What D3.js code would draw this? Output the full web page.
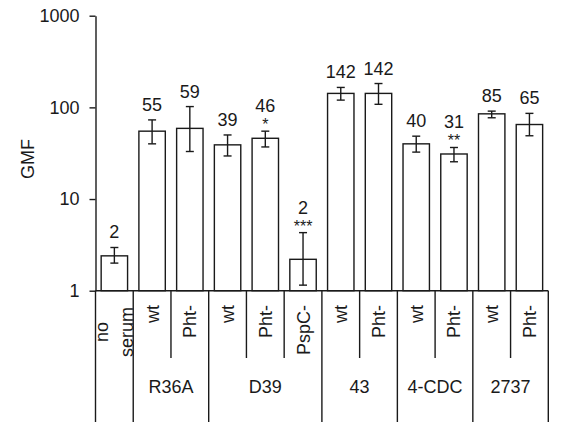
<!DOCTYPE html>
<html>
<head>
<meta charset="utf-8">
<script src="https://cdn.jsdelivr.net/npm/d3@7"></script>
<style>
  html, body { margin: 0; padding: 0; background: #fff; }
  svg { display: block; font-family: "Liberation Sans", Arial, sans-serif; }
</style>
</head>
<body>
<svg id="chart" width="561" height="422"></svg>
<script>
// Strain groups and the serum/variant condition of each bar
const strains  = ["none", "R36A", "R36A", "D39", "D39", "D39", "43", "43", "4-CDC", "4-CDC", "2737", "2737"];
const variants = ["no serum", "wt", "Pht-", "wt", "Pht-", "PspC-", "wt", "Pht-", "wt", "Pht-", "wt", "Pht-"];
// Geometric mean fluorescence and its error range
const gmf     = [2.4, 55, 59, 39, 46, 2.2, 142, 142, 40, 31, 85, 65];
const errLow  = [2.0, 40, 33, 29.5, 37, 1.15, 120, 108, 32.5, 25.5, 77, 49];
const errHigh = [2.96, 73, 102, 50, 55, 4.3, 165, 182, 48.5, 36.5, 91, 86];
// Significance markers
const stars   = ["", "", "", "", "*", "***", "", "", "", "**", "", ""];
// Axis ticks
const yTicks  = [1, 10, 100, 1000];

const svg = d3.select("#chart");
const ink = "#1a1a1a";

const x0 = 95.5, x1 = 548.3, yBase = 290.7, yTop = 15.7;
const ids = d3.range(gmf.length);

const x = d3.scaleBand().domain(ids).range([x0, x1]).paddingInner(0.3).paddingOuter(0.15);
const y = d3.scaleLog().domain([1, 1000]).range([yBase, yTop]);
const step = x.step();

// Bars
svg.append("g").selectAll("rect").data(ids).join("rect")
  .attr("x", i => x(i))
  .attr("y", i => y(gmf[i]))
  .attr("width", x.bandwidth())
  .attr("height", i => yBase - y(gmf[i]))
  .attr("fill", "#fff")
  .attr("stroke", ink)
  .attr("stroke-width", 1.4);

// Error bars
const eb = svg.append("g").attr("stroke", ink).attr("stroke-width", 1.4);
ids.forEach(i => {
  const cx = x(i) + x.bandwidth() / 2;
  eb.append("line").attr("x1", cx).attr("x2", cx).attr("y1", y(errLow[i])).attr("y2", y(errHigh[i]));
  [errLow[i], errHigh[i]].forEach(v => {
    eb.append("line").attr("x1", cx - 4).attr("x2", cx + 4).attr("y1", y(v)).attr("y2", y(v));
  });
});

// Value labels and significance stars
const fmt = d3.format(".0f");
ids.forEach(i => {
  const cx = x(i) + x.bandwidth() / 2;
  const top = y(errHigh[i]);
  if (stars[i]) {
    svg.append("text").attr("x", cx).attr("y", top - 1)
      .attr("text-anchor", "middle").attr("font-size", 16).attr("fill", ink)
      .text(stars[i]);
    svg.append("text").attr("x", cx).attr("y", top - 19)
      .attr("text-anchor", "middle").attr("font-size", 18).attr("fill", ink)
      .text(fmt(gmf[i]));
  } else {
    svg.append("text").attr("x", cx).attr("y", top - 9)
      .attr("text-anchor", "middle").attr("font-size", 18).attr("fill", ink)
      .text(fmt(gmf[i]));
  }
});

// Y axis
const yAxis = svg.append("g")
  .attr("transform", `translate(${x0},0)`)
  .call(d3.axisLeft(y).tickValues(yTicks).tickFormat(d3.format("d")).tickSize(6).tickSizeOuter(0));
yAxis.select(".domain").attr("stroke", ink).attr("stroke-width", 1.4);
yAxis.selectAll(".tick line").attr("stroke", ink).attr("stroke-width", 1.4);
yAxis.selectAll(".tick text").attr("font-size", 18).attr("fill", ink).attr("x", -16)
  .attr("font-family", "Liberation Sans, Arial, sans-serif");

svg.append("text")
  .attr("transform", "translate(33.5,159) rotate(-90)")
  .attr("text-anchor", "middle").attr("font-size", 18).attr("fill", ink)
  .text("GMF");

// Baseline
svg.append("line").attr("x1", x0).attr("x2", x1).attr("y1", yBase).attr("y2", yBase)
  .attr("stroke", ink).attr("stroke-width", 1.4);

// Category table below the axis: separators between bars and between strain groups
const bottom = 422, shortEnd = 358;
const sep = svg.append("g").attr("stroke", ink).attr("stroke-width", 1.4);
for (let k = 0; k <= ids.length; k++) {
  const bx = x0 + k * step;
  const groupEdge = k === 0 || k === ids.length || strains[k] !== strains[k - 1];
  sep.append("line").attr("x1", bx).attr("x2", bx).attr("y1", yBase).attr("y2", groupEdge ? bottom : shortEnd);
}

// Rotated condition labels
ids.forEach(i => {
  const cx = x(i) + x.bandwidth() / 2;
  if (variants[i] === "no serum") {
    const words = variants[i].split(" ");
    words.forEach((w, j) => {
      svg.append("text")
        .attr("transform", `translate(${cx - 6 + j * 25},332) rotate(-90)`)
        .attr("text-anchor", "middle").attr("font-size", 18).attr("fill", ink)
        .text(w);
    });
  } else {
    svg.append("text")
      .attr("transform", `translate(${cx + 6.5},305) rotate(-90)`)
      .attr("text-anchor", "end").attr("font-size", 18).attr("fill", ink)
      .text(variants[i]);
  }
});

// Strain group labels
const groups = Array.from(d3.group(ids, i => strains[i]), ([k, v]) => ({ k, v }))
  .filter(g => g.k !== "none");
groups.forEach(g => {
  const gx0 = x0 + d3.min(g.v) * step;
  const gx1 = x0 + (d3.max(g.v) + 1) * step;
  svg.append("text").attr("x", (gx0 + gx1) / 2).attr("y", 393)
    .attr("text-anchor", "middle").attr("font-size", 18).attr("fill", ink)
    .text(g.k);
});
</script>
</body>
</html>
